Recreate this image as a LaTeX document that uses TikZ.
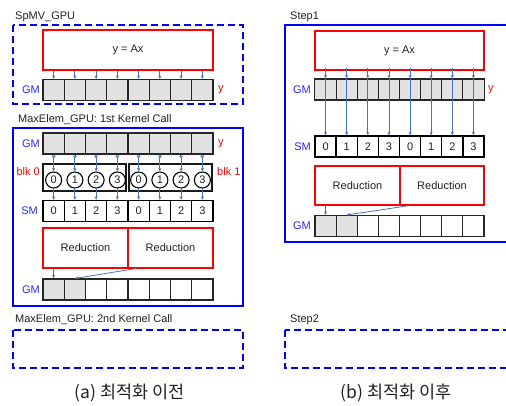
\documentclass[tikz,border=0pt]{standalone}
\usepackage{fontspec}
\setmainfont{Liberation Sans}
\newfontfamily\krfont{Noto Sans CJK KR}
\usetikzlibrary{arrows.meta,calc}

\definecolor{lblblue}{RGB}{40,40,255}
\definecolor{arrblue}{RGB}{68,114,196}
\definecolor{cellgray}{RGB}{226,226,226}
\definecolor{txtgray}{RGB}{34,34,34}

\tikzset{
  sectlbl/.style={text=txtgray, font=\fontsize{11}{13}\selectfont, anchor=base west, inner sep=0},
  memlbl/.style={text=lblblue, font=\fontsize{11}{13}\selectfont, anchor=east, inner sep=0},
  redlbl/.style={text=red, font=\fontsize{11}{13}\selectfont, inner sep=0},
  dashbox/.style={draw=blue, line width=1.6pt, dash pattern=on 7pt off 4pt},
  solidbox/.style={draw=blue, line width=1.1pt},
  kernelbox/.style={draw=red, line width=1.1pt, inner sep=0, text=txtgray,
    font=\fontsize{11}{13}\selectfont},
  cell/.style={draw=black!85, line width=1.1pt, minimum width=21.25pt,
    minimum height=21pt, inner sep=0, text=txtgray, font=\fontsize{11}{13}\selectfont},
  gcell/.style={cell, fill=cellgray},
  smcell/.style={cell, draw=black, line width=1.4pt},
  blkbox/.style={draw=black!90, line width=1.5pt, inner sep=0},
  thread/.style={circle, draw=black, line width=1.1pt, minimum size=16pt, inner sep=0,
    text=txtgray, font=\fontsize{11}{13}\selectfont},
  flow/.style={draw=arrblue, line width=0.8pt, -{Stealth[length=3.5pt,width=3pt]}},
  caption/.style={text=txtgray, font=\krfont\fontsize{17.5}{20}\selectfont, inner sep=0},
}

\begin{document}
\begin{tikzpicture}[x=1pt,y=-1pt]
\useasboundingbox (0,0) rectangle (506,405);
\clip (0,0) rectangle (506,405);

% ---------------- (a) before optimisation ----------------
% SpMV kernel
\node[sectlbl] (spmvlbl) at (15,19.5) {SpMV\_GPU};
\draw[dashbox] (13,25) rectangle (243,104);
\node[kernelbox, minimum width=170pt, minimum height=40pt] (lyax) at (128,50) {y = Ax};
\foreach \i in {1,...,8}
  \node[gcell] (la\i) at ({43+21.25*(\i-0.5)},90) {};
\node[memlbl] (lgm1) at (40,90) {GM};
\node[redlbl, anchor=west] (ly1) at (218,90) {y};
\foreach \i in {1,...,8}
  \draw[flow] (la\i |- lyax.south) -- (la\i.north);

% MaxElem, first kernel call
\node[sectlbl] (k1lbl) at (18,122) {MaxElem\_GPU: 1st Kernel Call};
\draw[solidbox] (13,128) rectangle (243,306);
\foreach \i in {1,...,8}
  \node[gcell] (lb\i) at ({43+21.25*(\i-0.5)},143.5) {};
\node[memlbl] (lgm2) at (40,143.5) {GM};
\node[redlbl, anchor=west] (ly2) at (218,143.5) {y};

\node[blkbox, minimum width=83pt, minimum height=27pt] (blk0) at (84.5,177.5) {};
\node[blkbox, minimum width=83pt, minimum height=27pt] (blk1) at (170.5,177.5) {};
\node[redlbl, anchor=east] (blk0lbl) at (40,172) {blk 0};
\node[redlbl, anchor=west] (blk1lbl) at (217,172) {blk 1};
\foreach \i/\t in {1/0,2/1,3/2,4/3,5/0,6/1,7/2,8/3}
  \node[thread] (lc\i) at ({43+21.25*(\i-0.5)},180) {\t};

\foreach \i/\t in {1/0,2/1,3/2,4/3,5/0,6/1,7/2,8/3}
  \node[smcell] (ld\i) at ({43+21.25*(\i-0.5)},211) {\t};
\node[memlbl] (lsm) at (38,211) {SM};

\foreach \i in {1,...,8} {
  \draw[flow, {Circle[open,length=3.5pt]}-{Stealth[length=3.5pt,width=3pt]}]
    (lb\i.south) -- (lc\i.north);
  \draw[flow] (lc\i.south) -- (ld\i.north);
}

\node[kernelbox, minimum width=85pt, minimum height=40pt] (lred1) at (85.5,248) {Reduction};
\node[kernelbox, minimum width=85pt, minimum height=40pt] (lred2) at (170.5,248) {Reduction};

\foreach \i in {1,2}
  \node[gcell] (le\i) at ({43+21.25*(\i-0.5)},289.5) {};
\foreach \i in {3,...,8}
  \node[cell] (le\i) at ({43+21.25*(\i-0.5)},289.5) {};
\node[memlbl] (lgm3) at (40,289.5) {GM};
\draw[flow] (le1 |- lred1.south) -- (le1.north);
\draw[flow] ($(lred2.south west)!0.1!(lred2.south east)$) -- (le2.north);

% MaxElem, second kernel call
\node[sectlbl] (k2lbl) at (15,322) {MaxElem\_GPU: 2nd Kernel Call};
\draw[dashbox] (13,330) rectangle (243,368);

\node[caption] (capa) at (130,393) {(a) 최적화 이전};

% ---------------- (b) after optimisation ----------------
\node[sectlbl] (s1lbl) at (290,19.5) {Step1};
\draw[solidbox] (285,25) rectangle (530,242);
\node[kernelbox, minimum width=169pt, minimum height=39pt] (ryax) at (399.5,50.5) {y = Ax};
\foreach \i in {1,...,8}
  \node[gcell] (ra\i) at ({315+21.125*(\i-0.5)},89.5) {};
\node[memlbl] (rgm1) at (311,89.5) {GM};
\node[redlbl, anchor=west] (ry) at (488,89.5) {y};

\foreach \i/\t in {1/0,2/1,3/2,4/3,5/0,6/1,7/2,8/3}
  \node[smcell, minimum width=21.125pt] (rb\i) at ({315+21.125*(\i-0.5)},146.5) {\t};
\node[memlbl] (rsm) at (311,146.5) {SM};

\foreach \i in {1,...,8} {
  \draw[flow] ([yshift=3pt]ra\i |- ryax.south) -- (ra\i.north);
  \draw[flow] (ra\i.north) -- (rb\i.north);
}

\node[kernelbox, minimum width=85pt, minimum height=39pt] (rred1) at (357.5,185.5) {Reduction};
\node[kernelbox, minimum width=84pt, minimum height=39pt] (rred2) at (442,185.5) {Reduction};

\foreach \i in {1,2}
  \node[gcell, minimum width=21.125pt] (rc\i) at ({315+21.125*(\i-0.5)},226) {};
\foreach \i in {3,...,8}
  \node[cell, minimum width=21.125pt] (rc\i) at ({315+21.125*(\i-0.5)},226) {};
\node[memlbl] (rgm2) at (311,226) {GM};
\draw[flow] (rc1 |- rred1.south) -- (rc1.north);
\draw[flow] ($(rred2.south west)!0.12!(rred2.south east)$) -- (rc2.north);

\node[sectlbl] (s2lbl) at (290,322) {Step2};
\draw[dashbox] (285,330) rectangle (530,368);

\node[caption] (capb) at (396,393) {(b) 최적화 이후};
\end{tikzpicture}
\end{document}
